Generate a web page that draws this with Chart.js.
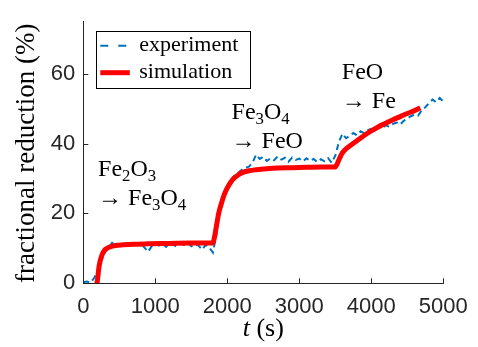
<!DOCTYPE html>
<html><head><meta charset="utf-8">
<script src="https://cdn.jsdelivr.net/npm/chart.js@4/dist/chart.umd.min.js"></script>
<style>html,body{margin:0;padding:0;background:#fff;overflow:hidden}</style>
</head><body>
<canvas id="c" width="478" height="347"></canvas>
<script>
// ---- data ----
const xTicks = [0, 1000, 2000, 3000, 4000, 5000];
const yTicks = [0, 20, 40, 60];
const seriesNames = ['experiment', 'simulation'];

const expTime = [0,50,100,150,200,250,300,350,400,450,500,550,600,650,700,750,800,850,900,950,
  1000,1050,1100,1150,1200,1250,1300,1350,1400,1450,1500,1550,1600,1650,1700,1750,1800,1850,1900,1950,
  2000,2050,2100,2150,2200,2250,2300,2350,2400,2450,2500,2550,2600,2650,2700,2750,2800,2850,2900,2950,
  3000,3050,3100,3150,3200,3250,3300,3350,3400,3450,3500,3550,3600,3650,3700,3750,3800,3850,3900,3950,
  4000,4050,4100,4150,4200,4250,4300,4350,4400,4450,4500,4550,4600,4650,4700,4750,4800,4850,4900,4950,5000];
const expValue = [0.3,0.5,0.2,1.5,3.5,6.5,8.8,10.2,11.6,10.5,11.2,10.8,11.5,11.0,11.6,10.9,11.4,10.2,9.0,10.6,
  11.5,10.8,11.3,10.4,11.6,11.0,10.5,11.4,10.9,11.5,10.6,11.2,10.8,9.6,11.0,10.2,8.8,14.0,21.5,25.5,
  27.8,29.5,30.9,31.6,32.5,33.0,33.4,34.5,36.8,35.6,36.2,35.0,35.8,35.2,36.3,35.4,35.9,34.8,36.0,35.3,
  35.7,34.9,35.8,35.0,35.6,34.7,35.5,34.9,35.8,34.5,36.5,40.5,42.8,41.5,42.2,43.0,42.4,43.5,43.0,43.8,
  44.2,43.6,44.8,44.3,45.2,44.8,45.6,46.0,45.4,46.5,47.2,47.8,48.3,48.0,49.5,50.4,51.5,52.6,51.8,53.0,52.0];

const simTime = [190,200,220,250,280,320,370,450,550,700,900,1200,1500,1800,1820,1850,1880,1920,1960,2000,
  2050,2100,2150,2200,2300,2400,2550,2700,2900,3100,3300,3500,3520,3560,3600,3650,3700,3800,3900,4000,
  4100,4200,4300,4400,4500,4600,4680];
const simValue = [0,1.5,5.0,7.5,9.0,9.9,10.4,10.8,11.0,11.2,11.3,11.4,11.5,11.5,13.0,16.5,20.0,23.0,25.5,27.3,
  29.0,30.2,31.0,31.6,32.2,32.5,32.8,33.0,33.1,33.2,33.3,33.3,33.9,35.8,37.4,38.5,39.3,40.8,42.3,43.6,
  44.8,45.8,46.8,47.7,48.6,49.4,50.2];

const stageLabels = [['Fe_2O_3', '\u2192 Fe_3O_4'], ['Fe_3O_4', '\u2192 FeO'], ['FeO', '\u2192 Fe']];

// ---- layout / style config ----
const annot = { t: [205, 2060, 3590], v: [30.6, 47.0, 58.4], lineGap: 29, size: 24 };
const BLUE = '#0072BD', RED = '#FF0000', AX = '#262626';
const SERIF = '"Liberation Serif", "DejaVu Serif", serif';
const SANS = '"Liberation Sans", Arial, sans-serif';

function richText(ctx, str, x, y, size) {
  const parts = str.split(/(_\d)/);
  for (const p of parts) {
    if (!p) continue;
    if (p[0] === '_') {
      ctx.font = (size * 0.7) + 'px ' + SERIF;
      ctx.fillText(p[1], x, y + size * 0.2);
      x += ctx.measureText(p[1]).width;
    } else {
      ctx.font = size + 'px ' + SERIF;
      ctx.fillText(p, x, y);
      x += ctx.measureText(p).width;
    }
  }
}

const decor = {
  id: 'decor',
  afterDraw(chart) {
    const ctx = chart.ctx, a = chart.chartArea;
    const xs = chart.scales.x, ys = chart.scales.y;
    ctx.save();
    // inward ticks
    ctx.strokeStyle = AX; ctx.lineWidth = 1;
    ctx.beginPath();
    xTicks.forEach(v => { const px = Math.round(xs.getPixelForValue(v)) + 0.5; ctx.moveTo(px, a.bottom); ctx.lineTo(px, a.bottom - 5); });
    yTicks.forEach(v => { const py = Math.round(ys.getPixelForValue(v)) + 0.5; ctx.moveTo(a.left, py); ctx.lineTo(a.left + 5, py); });
    ctx.stroke();

    // stage annotations
    ctx.fillStyle = '#000'; ctx.textBaseline = 'alphabetic'; ctx.textAlign = 'left';
    stageLabels.forEach((lines, i) => {
      const x = xs.getPixelForValue(annot.t[i]);
      const y = ys.getPixelForValue(annot.v[i]);
      lines.forEach((s, j) => richText(ctx, s, x, y + j * annot.lineGap, annot.size));
    });

    // legend
    const lx = a.left + 12.5, ly = a.top + 10, lw = 154, lh = 57;
    ctx.fillStyle = '#fff'; ctx.fillRect(lx, ly, lw, lh);
    ctx.strokeStyle = '#000'; ctx.lineWidth = 1;
    ctx.strokeRect(Math.round(lx) + 0.5, Math.round(ly) + 0.5, lw, lh);
    const r1 = ly + 14.5, r2 = ly + 41.5;
    ctx.lineWidth = 2; ctx.strokeStyle = BLUE; ctx.setLineDash([8, 10]);
    ctx.beginPath(); ctx.moveTo(lx + 4.5, r1); ctx.lineTo(lx + 34, r1); ctx.stroke();
    ctx.setLineDash([]);
    ctx.lineWidth = 5; ctx.strokeStyle = RED;
    ctx.beginPath(); ctx.moveTo(lx + 4.5, r2); ctx.lineTo(lx + 34, r2); ctx.stroke();
    ctx.fillStyle = '#000'; ctx.font = '22px ' + SERIF; ctx.textBaseline = 'middle';
    ctx.fillText(seriesNames[0], lx + 43.5, r1);
    ctx.fillText(seriesNames[1], lx + 43.5, r2);

    // axis titles
    ctx.font = '27px ' + SERIF; ctx.textAlign = 'center'; ctx.textBaseline = 'middle';
    ctx.save(); ctx.translate(27, (a.top + a.bottom) / 2 + 1); ctx.rotate(-Math.PI / 2);
    ctx.fillText('fractional reduction (%)', 0, 0); ctx.restore();
    // x title: italic t + (s)
    ctx.textBaseline = 'alphabetic'; ctx.textAlign = 'left';
    const it = 'italic 26px ' + SERIF, up = '26px ' + SERIF;
    ctx.font = it; const w1 = ctx.measureText('t').width;
    ctx.font = up; const w2 = ctx.measureText(' (s)').width;
    let tx = (a.left + a.right) / 2 - (w1 + w2) / 2;
    ctx.font = it; ctx.fillText('t', tx, 336);
    ctx.font = up; ctx.fillText(' (s)', tx + w1, 336);
    ctx.restore();
  }
};

new Chart(document.getElementById('c'), {
  type: 'line',
  data: {
    datasets: [
      { label: seriesNames[1], data: simTime.map((t, i) => ({ x: t, y: simValue[i] })),
        borderColor: RED, borderWidth: 5, pointRadius: 0, cubicInterpolationMode: 'monotone', order: 0 },
      { label: seriesNames[0], data: expTime.map((t, i) => ({ x: t, y: expValue[i] })),
        borderColor: BLUE, borderWidth: 2, borderDash: [6, 4], pointRadius: 0, tension: 0, order: 1 }
    ]
  },
  options: {
    responsive: false, animation: false, devicePixelRatio: 1,
    layout: { padding: { top: 10, right: 34.7, left: 0, bottom: 0 } },
    plugins: { legend: { display: false }, tooltip: { enabled: false } },
    scales: {
      x: {
        type: 'linear', min: 0, max: 5000,
        afterBuildTicks: s => { s.ticks = xTicks.map(v => ({ value: v })); },
        afterFit: s => { s.height = 63.7; },
        ticks: { autoSkip: false, maxRotation: 0, color: AX, padding: 10, font: { family: SANS, size: 22 },
                 callback: v => String(v) },
        grid: { drawOnChartArea: false, drawTicks: false },
        border: { display: true, color: AX, width: 1 }
      },
      y: {
        type: 'linear', min: 0, max: 75,
        afterBuildTicks: s => { s.ticks = yTicks.map(v => ({ value: v })); },
        afterFit: s => { s.width = 83.3; },
        ticks: { color: AX, padding: 8, font: { family: SANS, size: 22 }, callback: v => String(v) },
        grid: { drawOnChartArea: false, drawTicks: false },
        border: { display: true, color: AX, width: 1 }
      }
    }
  },
  plugins: [decor]
});
</script>
</body></html>
